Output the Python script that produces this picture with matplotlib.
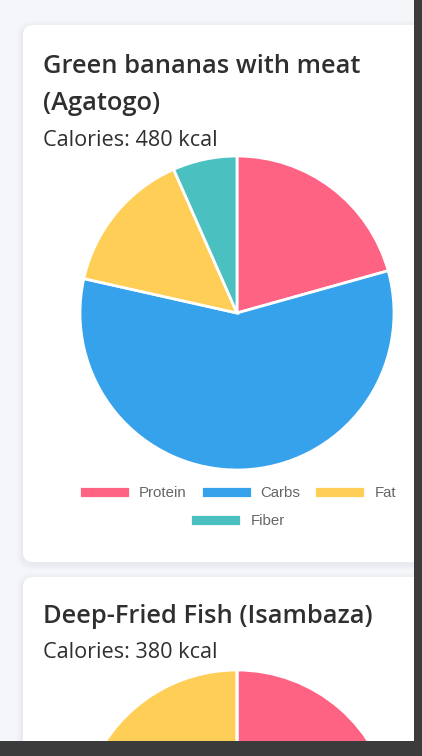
import matplotlib.pyplot as plt
from matplotlib.patches import FancyBboxPatch, Rectangle

# nutrient breakdown per dish (grams)
nutrients = ["Protein", "Carbs", "Fat", "Fiber"]
colors = ["#FF6384", "#36A2EB", "#FFCE56", "#4BC0C0"]

dish1_name = ["Green bananas with meat", "(Agatogo)"]
dish1_kcal = 480
dish1_values = [25, 70, 18, 8]

dish2_name = ["Deep-Fried Fish (Isambaza)"]
dish2_kcal = 380
dish2_values = [25, 10, 20, 0]

W, H = 422, 756
fig = plt.figure(figsize=(W / 100, H / 100), dpi=100)
fig.patch.set_facecolor("#f5f6fa")

bg = fig.add_axes([0, 0, 1, 1])
bg.set_xlim(0, W)
bg.set_ylim(H, 0)
bg.axis("off")


def card(y0, y1):
    # soft shadow then white card
    for i, a in enumerate([0.025, 0.03, 0.04]):
        pad = 6 - 2 * i
        bg.add_patch(FancyBboxPatch((23 - pad, y0 - pad + 2), 440 + 2 * pad, y1 - y0 + 2 * pad,
                                    boxstyle="round,pad=0,rounding_size=%d" % (10 + pad),
                                    fc="#8890a0", ec="none", alpha=a))
    bg.add_patch(FancyBboxPatch((23, y0), 440, y1 - y0,
                                boxstyle="round,pad=0,rounding_size=10",
                                fc="white", ec="none"))


def pie_axes(cx, cy, r):
    ax = fig.add_axes([(cx - r) / W, 1 - (cy + r) / H, 2 * r / W, 2 * r / H])
    return ax


def draw_pie(ax, values):
    w, _ = ax.pie(values, colors=colors, startangle=90, counterclock=False,
                  wedgeprops=dict(edgecolor="white", linewidth=2))
    ax.set_xlim(-1, 1)
    ax.set_ylim(-1, 1)
    ax.set_aspect("equal")
    return w


title_kw = dict(family="Open Sans", weight="semibold", fontsize=18.4, color="#2f2f2f")
sub_kw = dict(family="Open Sans", weight="normal", fontsize=15.6, color="#2f2f2f")

# card 1
card(25, 562)
for i, line in enumerate(dish1_name):
    bg.text(43, 73 + 37 * i, line, va="baseline", **title_kw)
bg.text(43, 146, "Calories: %d kcal" % dish1_kcal, va="baseline", **sub_kw)

ax1 = pie_axes(237, 313, 157)
wedges = draw_pie(ax1, dish1_values)

leg_kw = dict(frameon=False, loc="center", bbox_transform=fig.transFigure,
              prop=dict(family="Liberation Sans", size=10.8),
              labelcolor="#666666", handlelength=3.4, handleheight=0.87,
              handletextpad=0.6, columnspacing=0.93, borderpad=0, borderaxespad=0)
leg1 = ax1.legend(wedges[:3], nutrients[:3], ncol=3,
                  bbox_to_anchor=(237.5 / W, 1 - 493 / H), **leg_kw)
ax1.add_artist(leg1)
ax1.legend(wedges[3:], nutrients[3:], ncol=1,
           bbox_to_anchor=(237.5 / W, 1 - 521 / H), **leg_kw)

# card 2
card(577, 900)
for i, line in enumerate(dish2_name):
    bg.text(43, 623 + 37 * i, line, va="baseline", **title_kw)
bg.text(43, 658, "Calories: %d kcal" % dish2_kcal, va="baseline", **sub_kw)

ax2 = pie_axes(237, 827, 157)
draw_pie(ax2, dish2_values)

# browser scrollbar / window edge
fig.patches.append(Rectangle((414 / W, 0), 8 / W, 1, transform=fig.transFigure,
                             fc="#3b3b3b", ec="none", zorder=10))
fig.patches.append(Rectangle((0, 0), 1, 15 / H, transform=fig.transFigure,
                             fc="#3b3b3b", ec="none", zorder=10))

fig.savefig("out.png", dpi=100, facecolor=fig.get_facecolor())
